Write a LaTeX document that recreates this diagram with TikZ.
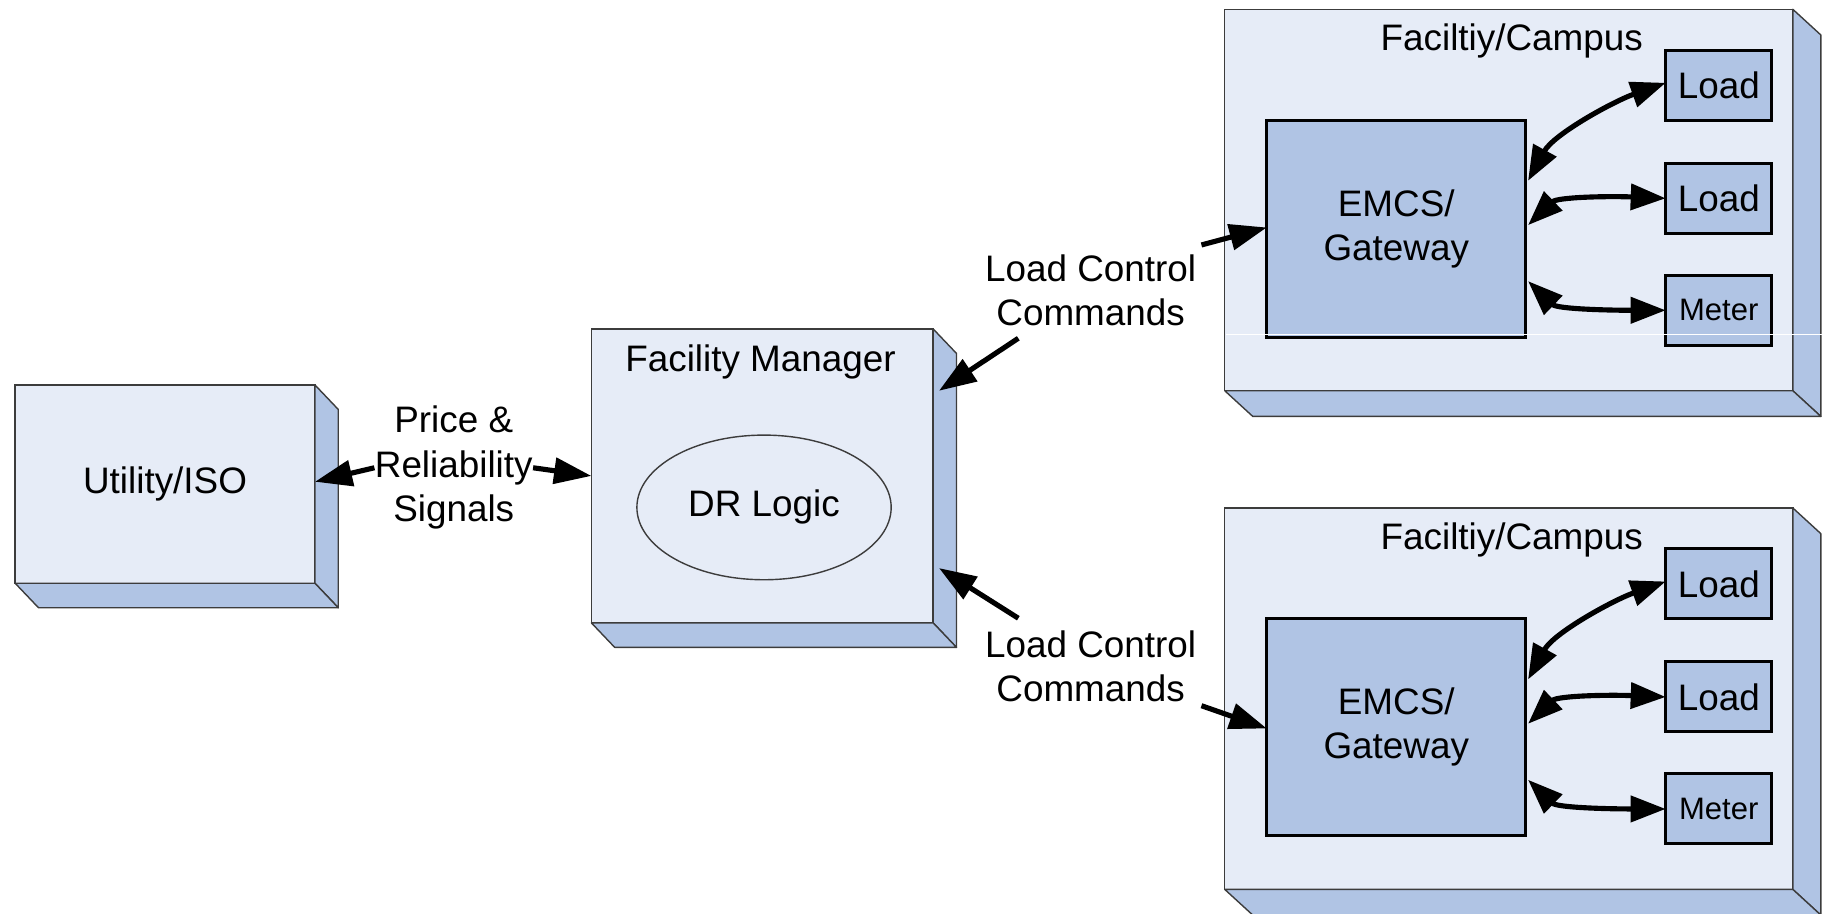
\documentclass[tikz,border=0pt]{standalone}
\usepackage{fontspec}
\setmainfont{Liberation Sans}
\usetikzlibrary{arrows.meta,calc,shapes.geometric}
\definecolor{facecol}{RGB}{230,236,247}
\definecolor{sidecol}{RGB}{176,196,228}
\definecolor{edgecol}{RGB}{60,60,60}
\begin{document}
\begin{tikzpicture}[x=0.5pt,y=-0.5pt,
  face/.style={draw=edgecol, line width=0.6pt, fill=facecol, inner sep=0pt, outer sep=0pt},
  sub/.style={draw=black, line width=1.3pt, fill=sidecol, inner sep=0pt, outer sep=0pt},
  depth/.style={draw=edgecol, line width=0.6pt, fill=sidecol, line join=round},
  txt/.style={font=\fontsize{15.8}{19}\selectfont, align=center, inner sep=0pt},
  smalltxt/.style={font=\fontsize{13.3}{16}\selectfont, align=center, inner sep=0pt},
  arr/.style={line width=2.2pt, -{Triangle[length=16pt,width=11pt]}},
  darr/.style={line width=2.2pt, {Triangle[length=15pt,width=11pt]}-{Triangle[length=15pt,width=11pt]}},
]
\useasboundingbox (0,0) rectangle (1568,783);

% ---------- Utility/ISO ----------
\node[face, txt, minimum width=128.5pt, minimum height=85pt] (util) at (141.5,415) {Utility/ISO};
\draw[depth] (util.north east) -- ++(20,21) -- ($(util.south east)+(20,21)$) -- (util.south east) -- cycle;
\draw[depth] (util.south west) -- ++(20,21) -- ($(util.south east)+(20,21)$) -- (util.south east) -- cycle;

% ---------- Facility Manager ----------
\node[face, minimum width=146.5pt, minimum height=126pt] (fm) at (653.5,408) {};
\draw[depth] (fm.north east) -- ++(20,21) -- ($(fm.south east)+(20,21)$) -- (fm.south east) -- cycle;
\draw[depth] (fm.south west) -- ++(20,21) -- ($(fm.south east)+(20,21)$) -- (fm.south east) -- cycle;
\node[txt] (fmtitle) at (652,310) {Facility Manager};
\node[ellipse, draw=edgecol, line width=0.6pt, fill=facecol, minimum width=109pt, minimum height=62pt, txt] (dr) at (655,435) {DR Logic};

% ---------- Price label ----------
\node[txt] (price) at (389,401) {Price \&\\Reliability\\Signals};
\draw[arr] (price.west) -- ([yshift=1pt]util.east);
\draw[arr] (price.east) -- (fm.west);

% ---------- Campuses ----------
\foreach \c/\dy in {1/0,2/427.5}{
  \node[face, minimum width=243.5pt, minimum height=163.5pt] (camp\c) at (1293.5,{171.5+\dy}) {};
  \draw[depth] (camp\c.north east) -- ++(24,22) -- ($(camp\c.south east)+(24,22)$) -- (camp\c.south east) -- cycle;
  \draw[depth] (camp\c.south west) -- ++(24,22) -- ($(camp\c.south east)+(24,22)$) -- (camp\c.south east) -- cycle;
  \node[txt] (ctitle\c) at (1296,{35+\dy}) {Faciltiy/Campus};
  \node[sub, txt, minimum width=111pt, minimum height=93pt] (emcs\c) at (1197,{196+\dy}) {EMCS/\\Gateway};
  \node[sub, txt, minimum width=45.5pt, minimum height=30pt] (loada\c) at (1473.5,{73+\dy}) {Load};
  \node[sub, txt, minimum width=45.5pt, minimum height=30pt] (loadb\c) at (1473.5,{170+\dy}) {Load};
  \node[sub, smalltxt, minimum width=45.5pt, minimum height=30pt] (meter\c) at (1473.5,{266+\dy}) {Meter};
  \draw[darr] ($(emcs\c.north east)+(2,52)$) .. controls +(22,-40) and +(-45,16) .. ([yshift=1pt]loada\c.west);
  \draw[darr] ($(emcs\c.north east)+(2,90)$) .. controls +(25,-24) and +(-50,-2) .. (loadb\c.west);
  \draw[darr] ($(emcs\c.north east)+(2,138)$) .. controls +(25,24) and +(-48,0) .. (meter\c.west);
}
% artefact line
\draw[white, line width=0.5pt] (1051,287) -- (1564,287);

% ---------- Load control labels ----------
\node[txt] (lc1) at (935,249) {Load Control\\Commands};
\node[txt] (lc2) at (935,571) {Load Control\\Commands};
\coordinate (lc1a) at (1030,210);
\coordinate (lc1b) at (873,290);
\coordinate (lc2a) at (1030,605);
\coordinate (lc2b) at (873,530);
\draw[arr] (lc1a) -- ([yshift=0.5pt]emcs1.west);
\draw[arr] (lc2a) -- ([yshift=-0.5pt]emcs2.west);
\draw[arr] (lc1b) -- ($(fm.north east)+(5,53)$);
\draw[arr] (lc2b) -- ($(fm.south east)+(5,-47)$);
\end{tikzpicture}
\end{document}
